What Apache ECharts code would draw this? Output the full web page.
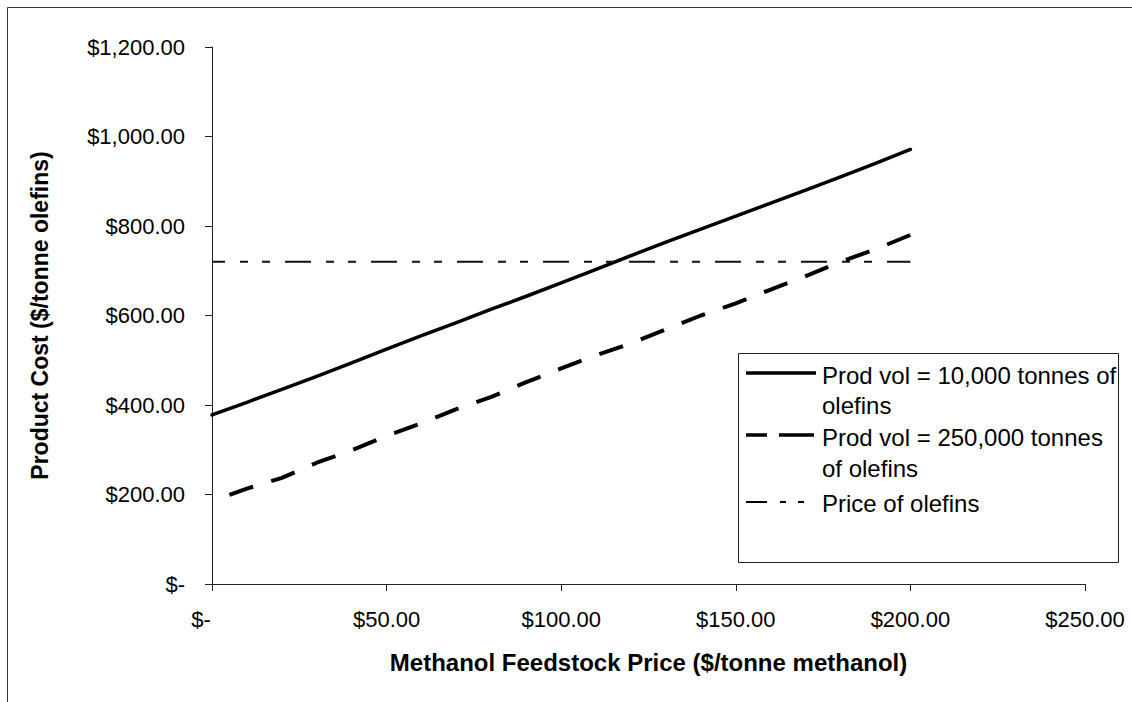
<!DOCTYPE html>
<html>
<head>
<meta charset="utf-8">
<script src="https://cdn.jsdelivr.net/npm/echarts@6/dist/echarts.min.js"></script>
<style>
html,body{margin:0;padding:0;background:#fff;}
#chart{width:1132px;height:702px;}
</style>
</head>
<body>
<div id="chart"></div>
<script>
// ---- Data ----
var xTitle = 'Methanol Feedstock Price ($/tonne methanol)';
var yTitle = 'Product Cost ($/tonne olefins)';
var seriesNames = ['Prod vol = 10,000 tonnes of olefins', 'Prod vol = 250,000 tonnes of olefins', 'Price of olefins'];
var legendLines = [['Prod vol = 10,000 tonnes of', 'olefins'], ['Prod vol = 250,000 tonnes', 'of olefins'], ['Price of olefins']];

var xSmall = [0, 10, 20, 30, 40, 50, 60, 70, 80, 90, 100, 110, 120, 130, 140, 150, 160, 170, 180, 190, 200];
var ySmall = [378, 406, 435, 464, 494, 525, 555, 584, 614, 643, 673, 703, 734, 764, 793, 822, 851, 880, 910, 940, 971];

var xLarge = [5, 10, 20, 30, 40, 50, 60, 70, 80, 90, 100, 110, 120, 130, 140, 150, 160, 170, 180, 190, 200];
var yLarge = [199, 213, 237, 271, 299, 331, 359, 391, 418, 451, 482, 511, 538, 569, 600, 627, 658, 688, 720, 748, 780];

var xPrice = [0, 200];
var yPrice = [720, 720];

var xMin = 0, xMax = 250, xStep = 50;
var yMin = 0, yMax = 1200, yStep = 200;

function pairs(xs, ys) { return xs.map(function (x, i) { return [x, ys[i]]; }); }
function money(v) {
  return '$' + v.toLocaleString('en-US', {minimumFractionDigits: 2, maximumFractionDigits: 2});
}

var FONT = '"Liberation Sans", Arial, sans-serif';
var chart = echarts.init(document.getElementById('chart'), null, {renderer: 'svg'});

// legend built from graphics
var LX = 738, LY = 353, LW = 380, LH = 209;
var rowY = [[375, 405], [437, 468], [503]];
var sampleY = [373, 435, 502];
var sampleStyles = [
  {lineWidth: 3.5, lineDash: null},
  {lineWidth: 3.5, lineDash: [21, 12, 35, 12]},
  {lineWidth: 2, lineDash: [21, 13, 6, 12, 6, 20]}
];
var legendGraphics = [{
  type: 'rect', shape: {x: LX + 0.5, y: LY + 0.5, width: LW, height: LH},
  style: {fill: '#fff', stroke: '#222', lineWidth: 1}, z: 100
}];
legendLines.forEach(function (lines, i) {
  legendGraphics.push({
    type: 'line', shape: {x1: 746, y1: sampleY[i], x2: 816, y2: sampleY[i]},
    style: {stroke: '#000', lineWidth: sampleStyles[i].lineWidth, lineDash: sampleStyles[i].lineDash}, z: 101
  });
  lines.forEach(function (t, j) {
    legendGraphics.push({
      type: 'text', x: 822, y: rowY[i][j],
      style: {text: t, fill: '#000', font: '24px ' + FONT, textVerticalAlign: 'middle', textAlign: 'left'}, z: 101
    });
  });
});

var option = {
  backgroundColor: '#fff',
  animation: false,
  grid: {left: 212, right: 47, top: 47, bottom: 118, containLabel: false},
  xAxis: {
    type: 'value', min: xMin, max: xMax, interval: xStep,
    name: xTitle, nameLocation: 'middle', nameGap: 66,
    nameTextStyle: {fontFamily: FONT, fontSize: 24, fontWeight: 'bold', color: '#000'},
    axisLine: {show: true, onZero: false, lineStyle: {color: '#222', width: 1}},
    axisTick: {show: true, inside: false, length: 7, lineStyle: {color: '#222', width: 1}},
    axisLabel: {
      margin: 24, fontFamily: FONT, fontSize: 22, color: '#000',
      formatter: function (v) { return v === 0 ? '{z|$-}' : money(v); },
      rich: {z: {fontFamily: FONT, fontSize: 22, color: '#000', padding: [0, 22, 0, 0]}}
    },
    splitLine: {show: false}
  },
  yAxis: {
    type: 'value', min: yMin, max: yMax, interval: yStep,
    name: yTitle, nameLocation: 'middle', nameGap: 161,
    nameTextStyle: {fontFamily: FONT, fontSize: 23, fontWeight: 'bold', color: '#000'},
    axisLine: {show: true, onZero: false, lineStyle: {color: '#222', width: 1}},
    axisTick: {show: true, inside: false, length: 7, lineStyle: {color: '#222', width: 1}},
    axisLabel: {
      margin: 27, fontFamily: FONT, fontSize: 22, color: '#000',
      formatter: function (v) { return v === 0 ? '$-' : money(v); }
    },
    splitLine: {show: false}
  },
  series: [
    {
      name: seriesNames[0], type: 'line', data: pairs(xSmall, ySmall),
      symbol: 'none', smooth: false,
      lineStyle: {color: '#000', width: 3.5, type: 'solid', join: 'round', cap: 'round'}
    },
    {
      name: seriesNames[1], type: 'line', data: pairs(xLarge, yLarge),
      symbol: 'none', smooth: false,
      lineStyle: {color: '#000', width: 4, type: [25, 19], join: 'round'}
    },
    {
      name: seriesNames[2], type: 'line', data: pairs(xPrice, yPrice),
      symbol: 'none', smooth: false,
      lineStyle: {color: '#111', width: 2, type: [26, 15, 8, 14, 8, 15], dashOffset: 13}
    }
  ],
  graphic: [{
    type: 'rect', shape: {x: 7.5, y: 7.5, width: 1200, height: 800},
    style: {fill: 'none', stroke: '#333', lineWidth: 1}, z: 0, silent: true
  }].concat(legendGraphics)
};
chart.setOption(option);
</script>
</body>
</html>
